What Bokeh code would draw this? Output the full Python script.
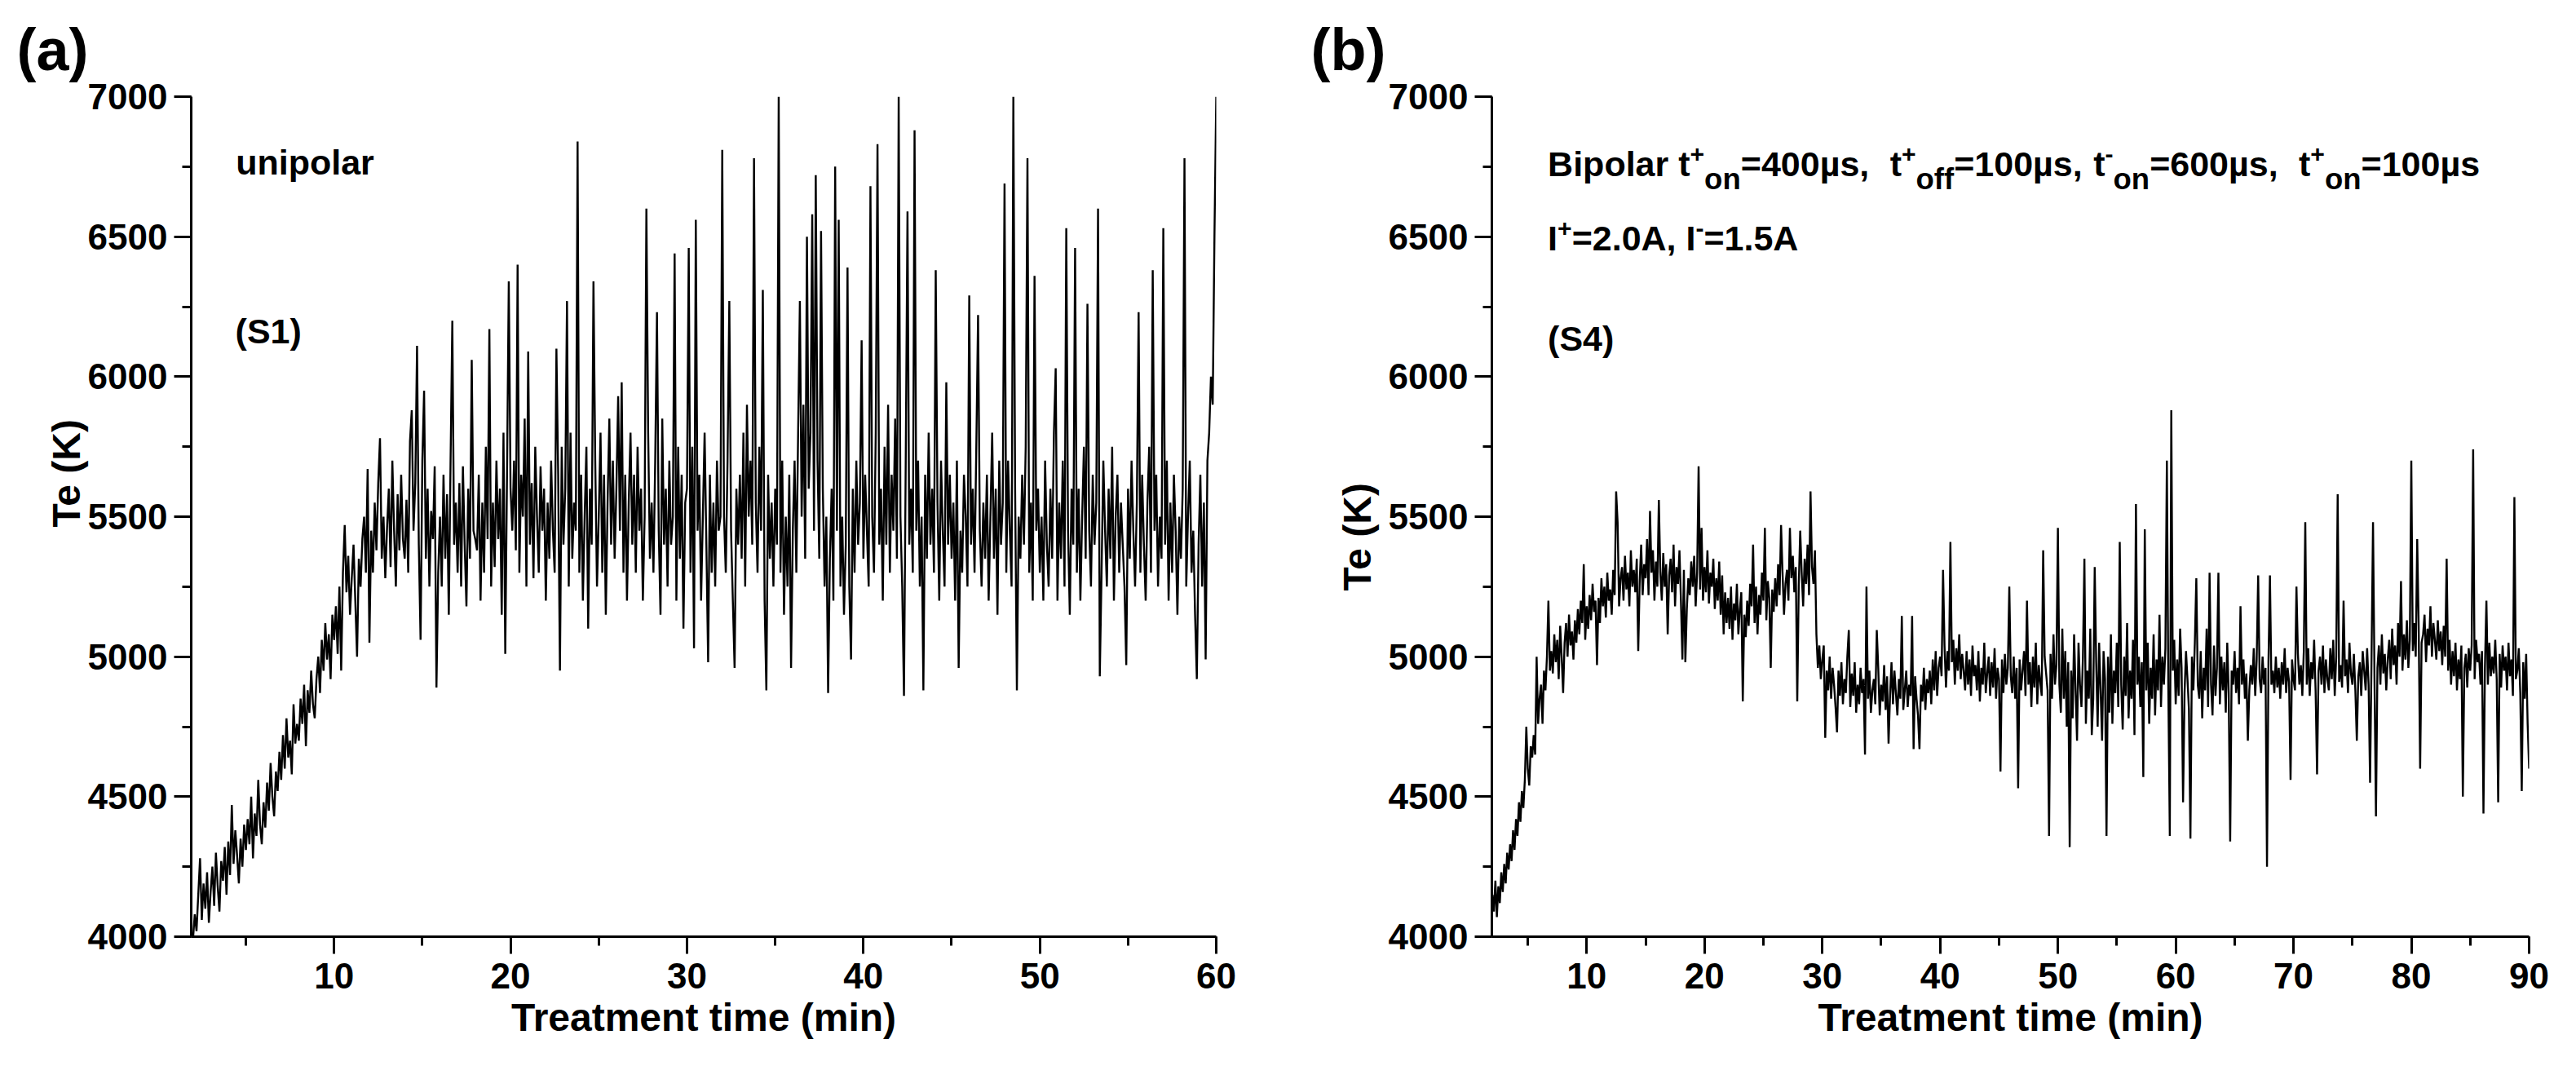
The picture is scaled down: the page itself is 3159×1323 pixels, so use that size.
import math
from bokeh.plotting import figure
from bokeh.models import Label, SingleIntervalTicker, Range1d, Title
from bokeh.layouts import row
from bokeh.embed import file_html
from bokeh.resources import INLINE

FONT = "Liberation Sans"

# ---------------- data ----------------
# panel (a): unipolar (S1), sampled every 0.1 min from 2.0 to 60.0 min
a_t0, a_dt = 2.0, 0.1
a_te = [
    3990, 4080, 4020, 4150, 4280, 4060, 4190, 4100, 4230, 4050,
    4160, 4250, 4110, 4300, 4180, 4090, 4270, 4200, 4320, 4150,
    4340, 4220, 4470, 4260, 4380, 4290, 4190, 4350, 4250, 4400,
    4310, 4420, 4330, 4500, 4280, 4440, 4360, 4560, 4400, 4330,
    4480, 4390, 4550, 4450, 4620, 4500, 4430, 4590, 4520, 4660,
    4560, 4720, 4600, 4780, 4640, 4700, 4580, 4830, 4690, 4760,
    4700, 4850, 4760, 4900, 4680, 4880, 4800, 4950, 4830, 4780,
    4920, 5000, 4870, 5060, 4950, 5120, 4990, 5080, 4920, 5150,
    5060, 5180, 5010, 5250, 4950, 5300, 5470, 5230, 5360, 5150,
    5280, 5400, 5200, 5000, 5350, 5250, 5420, 5500, 5300, 5670,
    5050, 5450, 5300, 5550, 5380, 5620, 5780, 5350, 5500, 5280,
    5460, 5600, 5320, 5700, 5450, 5250, 5580, 5380, 5650, 5420,
    5350, 5560, 5300, 5770, 5880, 5450, 5620, 6110, 5400, 5060,
    5700, 5950, 5350, 5600, 5250, 5520, 5420, 5680, 4890, 5300,
    5500, 5250, 5650, 5350, 5580, 5150, 5700, 6200, 5400, 5550,
    5300, 5620, 5250, 5680, 5400, 5180, 5600, 5350, 6060, 5450,
    5420, 5380, 5650, 5200, 5550, 5300, 5750, 5420, 6170, 5250,
    5550, 5320, 5700, 5420, 5600, 5150, 5800, 5010, 5650, 6340,
    5600, 5450, 5700, 5380, 6400, 5300, 5650, 5500, 5850, 5250,
    6090, 5400, 5620, 5280, 5750, 5500, 5300, 5680, 5450, 5600,
    5200, 5550, 5350, 5700, 5450, 5300, 6100, 5650, 4950, 5750,
    5400, 5600, 6270, 5250, 5800, 5350, 5550, 5450, 6840, 5300,
    5650, 5200, 5500, 5750, 5100, 5600, 5400, 6340, 5700, 5250,
    5500, 5800, 5300, 5650, 5150, 5550, 5850, 5400, 5700, 5350,
    5600, 5930, 5450, 5980, 5300, 5650, 5200, 5550, 5800, 5400,
    5650, 5300, 5750, 5450, 5600, 5200, 5500, 6600, 5800, 5350,
    5550, 5300, 5700, 6230, 5450, 5150, 5850, 5400, 5600, 5250,
    5700, 5400, 5500, 6440, 5200, 5750, 5350, 5650, 5100, 5550,
    5600, 6460, 5300, 5750, 5030, 6560, 5450, 5650, 5200, 5500,
    5800, 5400, 4980, 5650, 5300, 5550, 5250, 5700, 5450, 5500,
    6810, 5500, 5300, 5700, 6270, 5450, 5200, 4960, 5600, 5400,
    5650, 5350, 5800, 5250, 5900, 5500, 5700, 5400, 6780, 5550,
    5300, 5750, 5450, 6310, 5200, 4880, 5650, 5350, 5550, 5250,
    5600, 5400, 7000, 5300, 5700, 5150, 5500, 5250, 5650, 4960,
    5450, 5700, 5300, 5800, 6270, 5500, 5900, 5350, 6500, 5600,
    5800, 6580, 5450, 6720, 5700, 5350, 6520, 5600, 5250, 5500,
    4870, 5350, 5600, 5200, 6750, 5450, 6560, 5250, 5500, 5150,
    5400, 6390, 5250, 4990, 5600, 5300, 5700, 5400, 5550, 6130,
    5350, 5650, 5450, 5250, 6680, 5500, 5300, 5800, 6830, 5400,
    5600, 5200, 5750, 5400, 5900, 5300, 5650, 5450, 5850, 5350,
    7000, 5500, 5250, 4860, 5700, 6590, 5400, 5600, 5300, 6880,
    5450, 5700, 5250, 5500, 4880, 5650, 5350, 5800, 5400, 5600,
    5300, 6380, 5550, 5200, 5700, 5450, 5250, 5980, 5400, 5650,
    5350, 5550, 5200, 5700, 4960, 5450, 5300, 5650, 5500, 5250,
    6290, 5400, 5600, 5300, 5750, 6220, 5450, 5250, 5550, 5350,
    5650, 5200, 5500, 5800, 5350, 5600, 5150, 5700, 5400, 5550,
    6690, 5300, 5700, 5450, 5250, 7000, 5600, 4880, 5500, 5350,
    5650, 5400, 5750, 6780, 5300, 5550, 5200, 6360, 5450, 5600,
    5300, 5500, 5200, 5700, 5400, 5250, 5600, 5350, 5800, 6030,
    5200, 5550, 5350, 5700, 5250, 6530, 5450, 5150, 5600, 5400,
    6460, 5300, 5600, 5200, 5500, 5750, 5350, 6260, 5450, 5250,
    5650, 5400, 5550, 6600, 4930, 5300, 5700, 5450, 5250, 5600,
    5350, 5750, 5200, 5500, 5650, 5300, 5550, 5400, 5250, 4970,
    5600, 5350, 5700, 5450, 5250, 5550, 6230, 5300, 5650, 5400,
    5200, 5550, 5750, 5300, 6380, 5450, 5650, 5250, 5500, 5350,
    6530, 5400, 5700, 5200, 5550, 5300, 5650, 5450, 5150, 5500,
    5350, 5600, 6780, 5250, 5500, 5700, 5300, 5450, 5150, 4920,
    5400, 5650, 5250, 5550, 4990, 5700, 5800, 6000, 5900, 6510,
    7000,
]

# panel (b): bipolar (S4), sampled every 0.125 min from 2.0 to 90.0 min
b_t0, b_dt = 2.0, 0.125
b_te = [
    4150, 4090, 4200, 4070, 4180, 4120, 4230, 4160,
    4260, 4190, 4300, 4240, 4330, 4270, 4380, 4310,
    4420, 4360, 4480, 4410, 4520, 4460, 4560, 4750,
    4600, 4540, 4680, 4640, 4720, 4650, 5000, 4760,
    4850, 4900, 4760, 4950, 4880, 5000, 5200, 4950,
    5020, 4940, 5080, 4980, 5060, 4920, 5110, 5000,
    4870, 5050, 5120, 5000, 5150, 5040, 5090, 4990,
    5130, 5050, 5170, 5080, 5200, 5120, 5330, 5060,
    5180, 5100, 5220, 5130, 5260, 5160, 5200, 4970,
    5210, 5120, 5280, 5180, 5250, 5140, 5300, 5200,
    5240, 5150, 5310, 5220, 5590, 5480, 5180, 5280,
    5320, 5200, 5360, 5240, 5300, 5180, 5380, 5250,
    5310, 5230, 5350, 5020, 5270, 5400, 5220, 5330,
    5280, 5420, 5220, 5520, 5300, 5380, 5200, 5340,
    5250, 5560, 5300, 5200, 5370, 5250, 5330, 5080,
    5290, 5350, 5230, 5400, 5180, 5320, 5260, 5380,
    5200, 4990, 5310, 4980, 5170, 5280, 5220, 5340,
    5250, 5360, 5180, 5300, 5680, 5240, 5460, 5200,
    5320, 5230, 5380, 5190, 5300, 5250, 5350, 5170,
    5280, 5200, 5340, 5150, 5290, 5080, 5230, 5120,
    5210, 5100, 5250, 5060, 5190, 5130, 5260, 5080,
    5170, 5230, 4840, 5150, 5070, 5200, 5110, 5260,
    5180, 5400, 5120, 5250, 5080, 5220, 5150, 5300,
    5200, 5460, 5130, 5270, 5210, 4960, 5240, 5160,
    5280, 5180, 5330, 5220, 5470, 5300, 5150, 5260,
    5310, 5200, 5460, 5280, 5360, 5230, 5320, 4840,
    5250, 5450, 5300, 5180, 5350, 5260, 5400, 5220,
    5590, 5320, 5260, 5380, 5080, 4960, 5040, 4920,
    4990, 5040, 4710, 4950, 4880, 5000, 4850, 4960,
    4900, 4820, 4730, 4950, 4860, 4980, 4830, 4920,
    4870, 5000, 5095, 4820, 4940, 4860, 4980, 4800,
    4900, 4830, 4960, 4870, 4920, 4650, 5250, 4850,
    4950, 4800, 4880, 4920, 4830, 5095, 4960, 4790,
    4900, 4840, 4970, 4810, 4930, 4690, 4860, 4980,
    4830, 4950, 4870, 4790, 4920, 4850, 5145, 4810,
    4880, 4950, 4820, 4900, 4860, 5145, 4670, 4930,
    4850, 4790, 4670, 4900, 4840, 4960, 4810, 4920,
    4870, 4950, 4830, 4990, 4880, 5020, 4860, 4960,
    5000, 4930, 5310, 5040, 4890, 5020, 4950, 5410,
    4980, 5060, 4900, 5030, 4950, 5080, 4920, 5010,
    4950, 4880, 5020, 4900, 4990, 4860, 5040, 4930,
    4970, 4880, 5020, 4840, 4960, 4900, 5050, 4870,
    4940, 5000, 4860, 4980, 4890, 5030, 4850, 4960,
    4920, 4590, 4990, 4870, 5010, 4900, 4960, 5250,
    4930, 4870, 5000, 4850, 4960, 4530, 4990, 4880,
    4950, 5020, 4860, 5200, 4900, 4980, 4820, 5000,
    4890, 5050, 4830, 4970, 4910, 4860, 5380, 5000,
    4940, 4880, 4360, 5010, 4850, 5080, 4900, 4970,
    5460, 4900, 4800, 5100, 4850, 5020, 4750, 4980,
    4320, 4950, 4780, 5080, 4880, 4700, 5050, 4900,
    4820, 5000, 5350, 4760, 4950, 4850, 5100, 4720,
    4850, 5320, 4980, 4750, 5050, 4880, 4700, 5020,
    4920, 4360, 5000, 4800, 5080, 4760, 4950, 4870,
    5050, 4820, 5410, 4900, 4740, 5000, 4860, 5120,
    4780, 4950, 4850, 5060, 4720, 5545, 4900, 5000,
    4820, 4980, 4570, 5455, 4880, 5050, 4760, 4960,
    4850, 5080, 4790, 4990, 4880, 5150, 4820, 5000,
    4900, 5030, 5700, 4880, 4360, 5880, 4950, 5060,
    4830, 4990, 4860, 5100, 4960, 4480, 4870, 5020,
    4920, 4810, 4350, 5000, 4880, 5050, 5280, 4900,
    4850, 5020, 4780, 4960, 4880, 5100, 4820, 5300,
    4900, 4790, 5040, 4860, 4960, 5300, 4830, 5000,
    4880, 4980, 4800, 5050, 4870, 4340, 4950, 4900,
    5020, 4870, 4960, 4830, 5180, 4900, 4990, 4850,
    4940, 4700, 4880, 4970, 4900, 5030, 4860, 4990,
    5290, 4920, 4870, 5000, 4900, 4960, 4250, 4980,
    5290, 4900, 4950, 4870, 5000, 4890, 4960, 4850,
    4980, 4900, 5030, 4870, 4960, 4910, 4560, 4990,
    4920, 4880, 5250, 5010, 4900, 4970, 4860, 5020,
    5480, 4900, 5030, 4860, 4980, 4920, 5060, 4880,
    4580, 4950, 5000, 4900, 5040, 4870, 4990, 4920,
    4880, 5030, 4920, 5060, 4860, 5000, 5580, 4910,
    4970, 4890, 5200, 4930, 4990, 4870, 5050, 4940,
    4900, 5010, 4880, 4700, 4930, 4980, 4860, 5020,
    4950, 4880, 5030, 4900, 4550, 5000, 5480, 4920,
    4430, 4960, 5040, 4900, 5080, 4940, 5010, 4880,
    4990, 5060, 4920, 5100, 4970, 5040, 4900, 5120,
    5000, 5270, 4950, 5080, 4990, 5130, 4960, 5060,
    5700, 5020, 5120, 5000, 5420, 5110, 4600, 5050,
    5080, 5150, 4980, 5100, 5040, 5180, 5000, 5120,
    5060, 4990, 5130, 5020, 5090, 4970, 5110, 5000,
    5350, 4950, 5060, 4900, 5020, 4930, 5050, 4880,
    4990, 4920, 5040, 4500, 4960, 5010, 4890, 5030,
    4950, 5040, 5740, 4920, 5060, 4980, 5010, 4900,
    5020, 4440, 4960, 5200, 4900, 5050, 4930, 5000,
    4940, 5060, 4920, 4480, 5010, 4890, 5040, 4950,
    5000, 4880, 5050, 4930, 4990, 4860, 5570, 4920,
    4950, 5030, 4870, 4520, 4980, 4850, 5010, 4760,
    4600,
]

a_x_range = (1.9, 60.0)
b_x_range = (1.95, 90.0)
y_range = (4000, 7000)
x_tick_step = 10
y_tick_step = 500

x_title = "Treatment time (min)"
y_title = "Te (K)"

a_time = [round(a_t0 + i * a_dt, 4) for i in range(len(a_te))]
b_time = [round(b_t0 + i * b_dt, 4) for i in range(len(b_te))]

# ---------------- helpers ----------------
FRAME_H = 1030
W = {' ': 278, '(': 333, ')': 333, '+': 584, ',': 278, '-': 333, '.': 278, '=': 584,
     'µ': 611, 'A': 722, 'B': 722, 'I': 278, 'K': 722, 'S': 667, 'T': 611, 'a': 556,
     'e': 556, 'f': 333, 'i': 278, 'l': 278, 'n': 611, 'o': 611, 'p': 611, 'r': 389,
     's': 556, 't': 333}
for d in "0123456789":
    W[d] = 556


def tw(s, size):
    return sum(W.get(c, 556) for c in s) / 1000.0 * size


def add_text(p, x, y, text, size, dx=0.0, dy=0.0):
    p.add_layout(Label(x=x, y=y, x_offset=dx, y_offset=dy, text=text,
                       text_font=FONT, text_font_style="bold", text_font_size=f"{size:.1f}px",
                       text_color="black", text_align="left", text_baseline="alphabetic"))


def add_rich(p, x, y, pieces, size):
    off = 0.0
    for txt, mode in pieces:
        if mode == "sup":
            s, dy = size * 0.70, 12.0
        elif mode == "sub":
            s, dy = size * 0.85, -19.0
        else:
            s, dy = size, 0.0
        word = ""
        for ch in txt + "\0":
            if ch in (" ", "\0"):
                if word:
                    add_text(p, x, y, word, s, dx=off, dy=dy)
                    off += tw(word, s)
                    word = ""
                if ch == " ":
                    off += tw(" ", s)
            else:
                word += ch


YT_SIZE = 48


def make_fig(xr, frame_w, left, right, letter, letter_offset, ytitle_center_from_bottom, ytitle_standoff):
    p = figure(frame_width=frame_w, frame_height=FRAME_H,
               x_range=Range1d(*xr), y_range=Range1d(*y_range),
               output_backend="svg", toolbar_location=None,
               min_border_left=left, min_border_right=right,
               min_border_top=118, min_border_bottom=154)
    p.outline_line_color = None
    p.xgrid.visible = False
    p.ygrid.visible = False
    p.background_fill_color = "white"
    p.border_fill_color = "white"
    p.xaxis.ticker = SingleIntervalTicker(interval=x_tick_step, num_minor_ticks=2)
    p.yaxis.ticker = SingleIntervalTicker(interval=y_tick_step, num_minor_ticks=2)
    for ax in (p.xaxis[0], p.yaxis[0]):
        ax.axis_line_width = 3
        ax.axis_line_color = "black"
        ax.major_tick_line_width = 3
        ax.minor_tick_line_width = 3
        ax.major_tick_line_color = "black"
        ax.minor_tick_line_color = "black"
        ax.major_tick_in = 0
        ax.minor_tick_in = 0
        ax.major_tick_out = 21
        ax.minor_tick_out = 11
        ax.major_label_text_font = FONT
        ax.major_label_text_font_style = "bold"
        ax.major_label_text_font_size = "44px"
        ax.major_label_text_color = "black"
    p.yaxis.major_label_standoff = 8
    p.xaxis.major_label_standoff = 11
    p.xaxis.axis_label = x_title
    p.xaxis.axis_label_text_font = FONT
    p.xaxis.axis_label_text_font_style = "bold"
    p.xaxis.axis_label_text_font_size = "48px"
    p.xaxis.axis_label_text_color = "black"
    p.xaxis.axis_label_standoff = 6

    # panel letter as the plot title, pushed to the far left
    p.title.text = letter
    p.title.align = "left"
    p.title.offset = letter_offset
    p.title.standoff = 36
    p.title.text_font = FONT
    p.title.text_font_style = "bold"
    p.title.text_font_size = "72px"
    p.title.text_color = "black"

    # y-axis title as a left-side title; align="left" so that offset moves it up
    off = ytitle_center_from_bottom - tw(y_title, YT_SIZE) / 2.0
    p.add_layout(Title(text=y_title, align="left", offset=off, standoff=ytitle_standoff,
                       text_font=FONT, text_font_style="bold", text_font_size=f"{YT_SIZE}px",
                       text_color="black"), "left")
    return p


# ---------------- panel (a) ----------------
pa = make_fig(a_x_range, 1257, 234, 61, "(a)", -214, 570, -6)
pa.line(a_time, a_te, line_color="black", line_width=2.4)
add_text(pa, 4.43, 6765, "unipolar", 43)
add_text(pa, 4.40, 6162, "(S1)", 43)

# ---------------- panel (b) ----------------
pb = make_fig(b_x_range, 1272, 277, 42, "(b)", -222, 492, 18)
pb.line(b_time, b_te, line_color="black", line_width=2.4)
line1 = [("Bipolar t", "n"), ("+", "sup"), ("on", "sub"), ("=400µs,  t", "n"), ("+", "sup"),
         ("off", "sub"), ("=100µs, t", "n"), ("-", "sup"), ("on", "sub"), ("=600µs,  t", "n"),
         ("+", "sup"), ("on", "sub"), ("=100µs", "n")]
line2 = [("I", "n"), ("+", "sup"), ("=2.0A, I", "n"), ("-", "sup"), ("=1.5A", "n")]
add_rich(pb, 6.7, 6760, line1, 43)
add_rich(pb, 6.7, 6496, line2, 43)
add_text(pb, 6.7, 6135, "(S4)", 43)

layout = row(pa, pb)
open("out.html", "w").write(file_html(layout, INLINE))
